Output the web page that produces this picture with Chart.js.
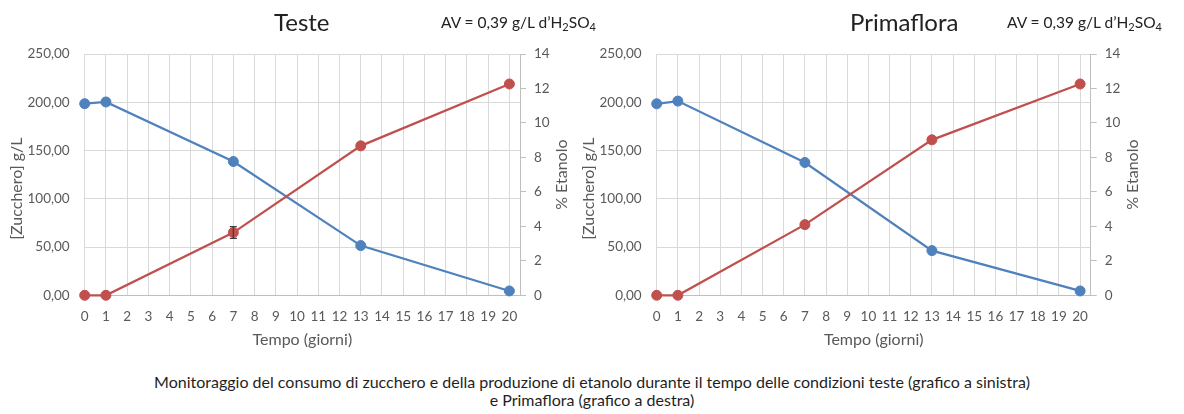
<!DOCTYPE html>
<html>
<head>
<meta charset="utf-8">
<script src="https://cdn.jsdelivr.net/npm/chart.js@4.4.1/dist/chart.umd.min.js"></script>
<style>
  body { margin: 0; background: #fff; font-family: Lato, sans-serif; }
  #page { position: relative; width: 1184px; height: 414px; overflow: hidden; }
  canvas { position: absolute; top: 0; }
  .title { position: absolute; font-size: 24px; line-height: 1; color: #222; white-space: nowrap; }
  .av { position: absolute; font-size: 15.5px; line-height: 1; color: #222; white-space: nowrap; }
  .av sub { font-size: 11px; vertical-align: -3px; line-height: 0; }
  #caption { position: absolute; left: 0; width: 1184px; top: 373px; text-align: center;
             font-size: 16px; line-height: 18px; color: #1f1f1f; }
</style>
</head>
<body>
<div id="page">
  <canvas id="chartTeste" width="572" height="360" style="left:0"></canvas>
  <canvas id="chartPrima" width="612" height="360" style="left:572px"></canvas>
  <div class="title" id="t1" style="top:10px">Teste</div>
  <div class="av" style="left:441px; top:15px">AV = 0,39 g/L d’H<sub>2</sub>SO<sub>4</sub></div>
  <div class="title" id="t2" style="top:10px">Primaflora</div>
  <div class="av" style="left:1007px; top:15px">AV = 0,39 g/L d’H<sub>2</sub>SO<sub>4</sub></div>
  <div id="caption">Monitoraggio del consumo di zucchero e della produzione di etanolo durante il tempo delle condizioni teste (grafico a sinistra)<br>e Primaflora (grafico a destra)</div>
</div>
<script>
// tempo (giorni)
const days = [0, 1, 7, 13, 20];

// Teste
const testeSugar = [198.5, 200.3, 138.6, 51.5, 4.5];
const testeEthanol = [0, 0, 3.64, 8.67, 12.26];
const testeEthanolErr = [0, 0, 0.34, 0, 0];

// Primaflora
const primaSugar = [198.4, 201.2, 137.6, 46.3, 4.5];
const primaEthanol = [0, 0, 4.1, 9.02, 12.26];
const primaEthanolErr = [0, 0, 0, 0, 0];

const sugarTicks = [0, 50, 100, 150, 200, 250];
const ethanolTicks = [0, 2, 4, 6, 8, 10, 12, 14];

const BLUE = "#4F81BD";
const RED = "#C0504D";
const GRID = "#d9d9d9";
const TEXT = "#595959";

Chart.defaults.font.family = "Lato";
Chart.defaults.font.size = 13.5;
Chart.defaults.color = TEXT;

// center the big titles over each plot
function placeTitle(id, cx) {
  const el = document.getElementById(id);
  el.style.left = (cx - el.offsetWidth / 2) + "px";
}
placeTitle("t1", 302);
placeTitle("t2", 904);

const axisTitles = {
  id: "axisTitles",
  afterDraw(chart) {
    const { ctx, chartArea } = chart;
    const midY = (chartArea.top + chartArea.bottom) / 2;
    ctx.save();
    ctx.fillStyle = TEXT;
    ctx.font = "16px Lato";
    ctx.textAlign = "center";
    ctx.textBaseline = "middle";
    ctx.fillText("Tempo (giorni)", (chartArea.left + chartArea.right) / 2, chartArea.bottom + 45);

    ctx.save();
    ctx.translate(chartArea.left - 68, midY + 14);
    ctx.rotate(-Math.PI / 2);
    ctx.fillText("[Zucchero] g/L", 0, 0);
    ctx.restore();

    ctx.save();
    ctx.translate(chartArea.right + 42, midY);
    ctx.rotate(-Math.PI / 2);
    ctx.fillText("% Etanolo", 0, 0);
    ctx.restore();
    ctx.restore();
  },
};

const errorBars = {
  id: "errorBars",
  afterDatasetsDraw(chart) {
    const { ctx } = chart;
    chart.data.datasets.forEach((ds, i) => {
      if (!ds.errors) return;
      const meta = chart.getDatasetMeta(i);
      const yScale = chart.scales[ds.yAxisID];
      ctx.save();
      ctx.strokeStyle = "#404040";
      ctx.lineWidth = 1.3;
      meta.data.forEach((pt, j) => {
        const e = ds.errors[j];
        if (!e) return;
        const v = ds.data[j].y;
        const y1 = yScale.getPixelForValue(v + e);
        const y2 = yScale.getPixelForValue(v - e);
        ctx.beginPath();
        ctx.moveTo(pt.x, y1); ctx.lineTo(pt.x, y2);
        ctx.moveTo(pt.x - 3.5, y1); ctx.lineTo(pt.x + 3.5, y1);
        ctx.moveTo(pt.x - 3.5, y2); ctx.lineTo(pt.x + 3.5, y2);
        ctx.stroke();
      });
      ctx.restore();
    });
  },
};

function makeChart(canvasId, sugar, ethanol, ethanolErr, rightWidth) {
  new Chart(document.getElementById(canvasId), {
    type: "line",
    data: {
      datasets: [
        {
          label: "Etanolo",
          data: days.map((d, i) => ({ x: d, y: ethanol[i] })),
          errors: ethanolErr,
          yAxisID: "y1",
          borderColor: RED,
          backgroundColor: RED,
          borderWidth: 2.25,
          pointRadius: 5,
          pointBorderWidth: 1,
          clip: false,
          order: 0,
        },
        {
          label: "Zucchero",
          data: days.map((d, i) => ({ x: d, y: sugar[i] })),
          yAxisID: "y",
          borderColor: BLUE,
          backgroundColor: BLUE,
          borderWidth: 2.25,
          pointRadius: 5,
          pointBorderWidth: 1,
          clip: false,
          order: 1,
        },
      ],
    },
    options: {
      responsive: false,
      animation: false,
      layout: { padding: { top: 54, left: 0, right: 0, bottom: 0 } },
      plugins: { legend: { display: false }, tooltip: { enabled: false } },
      scales: {
        x: {
          type: "linear",
          min: 0,
          max: 20.5,
          ticks: { stepSize: 1, includeBounds: false, padding: 13, autoSkip: false, maxRotation: 0 },
          afterBuildTicks: (axis) => {
            axis.ticks = axis.ticks.filter((t) => Number.isInteger(t.value));
          },
          afterFit: (axis) => { axis.height = 64.7; },
          grid: { color: GRID, drawTicks: false },
          border: { color: "#bfbfbf" },
        },
        y: {
          position: "left",
          min: 0,
          max: 250,
          afterBuildTicks: (axis) => { axis.ticks = sugarTicks.map((v) => ({ value: v })); },
          ticks: {
            padding: 15,
            callback: (v) => v.toFixed(2).replace(".", ","),
          },
          afterFit: (axis) => { axis.width = 84.7; },
          grid: { color: GRID, drawTicks: false },
          border: { color: GRID },
        },
        y1: {
          position: "right",
          min: 0,
          max: 14,
          afterBuildTicks: (axis) => { axis.ticks = ethanolTicks.map((v) => ({ value: v })); },
          ticks: { padding: 8 },
          afterFit: (axis) => { axis.width = rightWidth; },
          grid: { drawOnChartArea: false, color: "#bfbfbf", tickLength: 6 },
          border: { color: "#bfbfbf" },
        },
      },
    },
    plugins: [axisTitles, errorBars],
  });
}

makeChart("chartTeste", testeSugar, testeEthanol, testeEthanolErr, 52);
makeChart("chartPrima", primaSugar, primaEthanol, primaEthanolErr, 93.3);
</script>
</body>
</html>
